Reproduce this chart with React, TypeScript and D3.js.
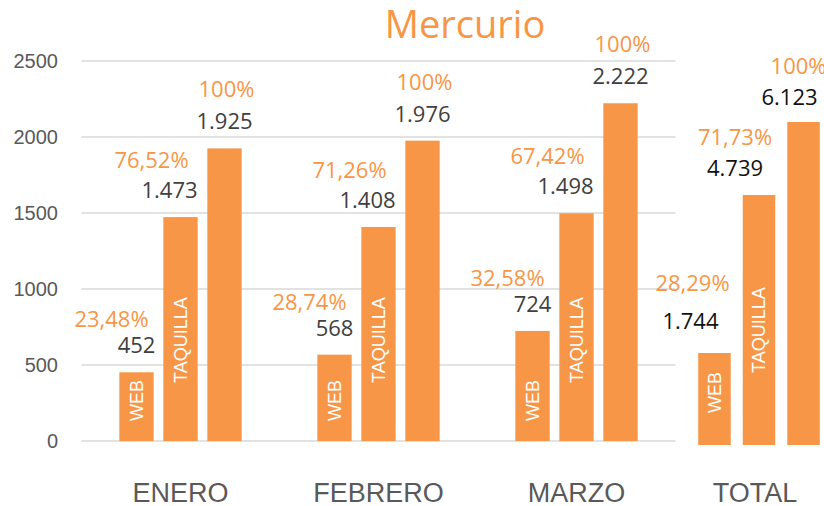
import React from "react";
import * as d3 from "d3";

const months = ["ENERO", "FEBRERO", "MARZO"];
const series = ["WEB", "TAQUILLA", "TOTAL"];
const webValues = [452, 568, 724];
const taquillaValues = [1473, 1408, 1498];
const totalValues = [1925, 1976, 2222];
const webPct = ["23,48%", "28,74%", "32,58%"];
const taquillaPct = ["76,52%", "71,26%", "67,42%"];
const totalPct = ["100%", "100%", "100%"];
const grandLabel = "TOTAL";
const grandValues = [1744, 4739, 6123];
const grandPct = ["28,29%", "71,73%", "100%"];
const yTicks = [0, 500, 1000, 1500, 2000, 2500];
const title = "Mercurio";

const ORANGE = "#F79646";
const locale = d3.formatLocale({ thousands: ".", decimal: ",", grouping: [3], currency: ["", "€"] });
const fmt = locale.format(",d");

export default function App() {
  const y = d3.scaleLinear().domain([0, 2500]).range([441, 61]);
  const x = d3.scaleBand().domain(months).range([81.5, 675.5]).paddingInner(0).paddingOuter(0);
  const xi = d3.scaleBand().domain(series).range([33, 165]).paddingInner(0.22).paddingOuter(0.11);
  const xt = d3.scaleBand().domain(series).range([696, 822]).paddingInner(0.27).paddingOuter(0.05);
  const yt = d3.scaleLinear().domain([0, 6123]).range([445, 122]);

  const monthVals = [webValues, taquillaValues, totalValues];
  const monthPct = [webPct, taquillaPct, totalPct];
  const valDx = [0, -11, 0];
  const pctDx = [-25, -29, 2];
  const pctDy = [-45, -49, -51];
  const grandValDx = [-24, -24, -14];
  const grandPctDx = [-22, -24, -5];
  const grandValDy = [-24, -19, -17];
  const grandPctDy = [-62, -50, -48];
  const inBarOffset = [20, 58, 0];

  const labelFont = "'Open Sans', sans-serif";
  const axisFont = "'Liberation Sans', Arial, sans-serif";

  const bars: React.ReactNode[] = [];
  months.forEach((m, gi) => {
    series.forEach((s, si) => {
      const v = monthVals[si][gi];
      const bx = (x(m) as number) + (xi(s) as number);
      const bw = xi.bandwidth();
      const top = y(v);
      const cx = bx + bw / 2;
      bars.push(
        <g key={`${m}-${s}`}>
          <rect x={bx} y={top} width={bw} height={y(0) - top} fill={ORANGE} />
          <text x={cx + valDx[si]} y={top - 19} textAnchor="middle" fontFamily={labelFont} fontSize={22} fill="#404040">
            {fmt(v)}
          </text>
          <text x={cx + pctDx[si]} y={top + pctDy[si]} textAnchor="middle" fontFamily={labelFont} fontSize={22} fill={ORANGE}>
            {monthPct[si][gi]}
          </text>
          {si < 2 && (
            <text
              transform={`translate(${cx},${y(0) - inBarOffset[si]}) rotate(-90)`}
              dy="0.36em"
              fontFamily={axisFont}
              fontSize={18}
              fill="#ffffff"
            >
              {s}
            </text>
          )}
        </g>
      );
    });
  });

  series.forEach((s, si) => {
    const v = grandValues[si];
    const bx = xt(s) as number;
    const bw = xt.bandwidth();
    const top = yt(v);
    const cx = bx + bw / 2;
    bars.push(
      <g key={`grand-${s}`}>
        <rect x={bx} y={top} width={bw} height={yt(0) - top} fill={ORANGE} />
        <text x={cx + grandValDx[si]} y={top + grandValDy[si]} textAnchor="middle" fontFamily={labelFont} fontSize={22} fill="#111111">
          {fmt(v)}
        </text>
        <text x={cx + grandPctDx[si]} y={top + grandPctDy[si]} textAnchor="middle" fontFamily={labelFont} fontSize={22} fill={ORANGE}>
          {grandPct[si]}
        </text>
        {si < 2 && (
          <text
            transform={`translate(${cx},${yt(0) - (si === 0 ? 32 : 72)}) rotate(-90)`}
            dy="0.36em"
            fontFamily={axisFont}
            fontSize={18}
            fill="#ffffff"
          >
            {s}
          </text>
        )}
      </g>
    );
  });

  return (
    <svg width={824} height={506} style={{ position: "absolute", left: 0, top: 0, background: "#fff" }}>
      <rect width={824} height={506} fill="#ffffff" />
      {yTicks.map((t) => (
        <g key={t}>
          <line x1={81.5} x2={675.5} y1={y(t)} y2={y(t)} stroke="#d9d9d9" strokeWidth={1.5} />
          <text x={58} y={y(t) + 7} textAnchor="end" fontFamily={axisFont} fontSize={20} fill="#595959">
            {t}
          </text>
        </g>
      ))}
      {bars}
      {months.map((m) => (
        <text key={m} x={(x(m) as number) + x.bandwidth() / 2} y={502} textAnchor="middle" fontFamily={axisFont} fontSize={27} fill="#595959">
          {m}
        </text>
      ))}
      <text x={755} y={502} textAnchor="middle" fontFamily={axisFont} fontSize={27} fill="#595959">
        {grandLabel}
      </text>
      <text x={465} y={38} textAnchor="middle" fontFamily={labelFont} fontSize={38} fill={ORANGE}>
        {title}
      </text>
    </svg>
  );
}
